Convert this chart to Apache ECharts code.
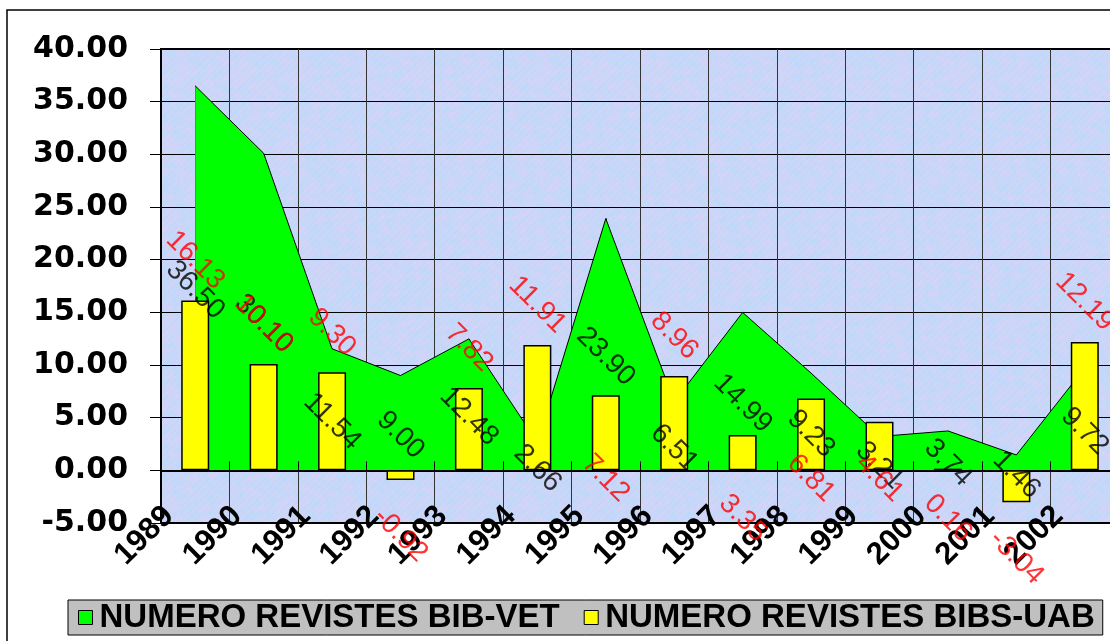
<!DOCTYPE html>
<html>
<head>
<meta charset="utf-8">
<script src="https://cdn.jsdelivr.net/npm/echarts@6/dist/echarts.min.js"></script>
<style>
html, body { margin: 0; padding: 0; background: #fff; }
#main { width: 1110px; height: 641px; }
</style>
</head>
<body>
<div id="main"></div>
<script>
// dades
var years = ['1989', '1990', '1991', '1992', '1993', '1994', '1995', '1996', '1997', '1998', '1999', '2000', '2001', '2002'];
var bibVet = [36.50, 30.10, 11.54, 9.00, 12.48, 2.66, 23.90, 6.51, 14.99, 9.23, 3.21, 3.74, 1.46, 9.72];
var bibsUab = [16.13, 10.10, 9.30, -0.92, 7.82, 11.91, 7.12, 8.96, 3.35, 6.81, 4.61, 0.16, -3.04, 12.19];
var nameVet = 'NUMERO REVISTES BIB-VET';
var nameUab = 'NUMERO REVISTES BIBS-UAB';

// on va l'etiqueta vermella de cada barra: al final de la barra o sota l'eix
var uabLabelAt = ['end', 'end', 'end', 'end', 'end', 'end', 'base', 'end', 'under', 'base', 'base', 'under', 'end', 'end'];

// textura del fons
function makeTexture() {
    var n = 180;
    var c = document.createElement('canvas');
    c.width = n;
    c.height = n;
    var ctx = c.getContext('2d');
    var img = ctx.createImageData(n, n);
    for (var y = 0; y < n; y++) {
        for (var x = 0; x < n; x++) {
            var a = Math.sin(x * 0.21 + Math.sin(y * 0.17) * 2.3) * Math.cos(y * 0.23 + Math.sin(x * 0.11) * 1.9);
            var b = Math.sin(x * 0.53 + y * 0.31) * Math.sin(y * 0.47 - x * 0.29);
            var t = 0.5 + 0.3 * a + 0.15 * b;
            var k = ((x * 31 + y * 17) % 7) - 3;
            var p = (y * n + x) * 4;
            img.data[p] = 186 + 30 * t + k;
            img.data[p + 1] = 218 - 8 * t + k;
            img.data[p + 2] = 250 - 4 * t;
            img.data[p + 3] = 255;
        }
    }
    ctx.putImageData(img, 0, 0);
    return c;
}

var chart = echarts.init(document.getElementById('main'));

// punts on s'enganxen les etiquetes vermelles
var redPoints = bibsUab.map(function (v, i) {
    var at = uabLabelAt[i];
    var pos, dist, y = v;
    if (at == 'end') {
        pos = v < 0 ? 'bottom' : 'top';
        dist = v < 0 ? 55 : 40;
    } else if (at == 'base') {
        pos = 'bottom';
        dist = 8;
        y = 0;
    } else {
        pos = 'bottom';
        dist = 48;
        y = 0;
    }
    return {value: [i, y], label: {position: pos, distance: dist}};
});

// linies verticals dins l'area
var dropLines = bibVet.map(function (v, i) {
    return [{coord: [years[i], 0]}, {coord: [years[i], v]}];
});

var labelFont = {
    rotate: -45,
    align: 'center',
    verticalAlign: 'middle',
    fontFamily: 'Liberation Sans',
    fontSize: 28
};

var option = {
    animation: false,
    backgroundColor: '#fff',
    grid: {
        left: 161,
        top: 49,
        width: 958,
        height: 474,
        show: true,
        backgroundColor: {image: makeTexture(), repeat: 'repeat'},
        borderColor: '#000',
        borderWidth: 2,
        outerBoundsMode: 'none'
    },
    legend: {
        left: 68,
        top: 600,
        orient: 'horizontal',
        itemWidth: 14,
        itemHeight: 14,
        itemGap: 24,
        backgroundColor: '#c0c0c0',
        borderColor: '#000',
        borderWidth: 1,
        borderRadius: 0,
        padding: [1, 8, 1, 10],
        textStyle: {fontFamily: 'Liberation Sans', fontWeight: 'bold', fontSize: 33, color: '#000', padding: [0, 0, 0, 2]},
        data: [
            {name: nameVet, icon: 'rect', itemStyle: {color: '#00ff00', borderColor: '#000', borderWidth: 1}},
            {name: nameUab, icon: 'rect', itemStyle: {color: '#ffff00', borderColor: '#000', borderWidth: 1}}
        ]
    },
    graphic: [{
        type: 'rect',
        shape: {x: 7, y: 10, width: 1130, height: 660},
        style: {fill: 'none', stroke: '#000', lineWidth: 1.5},
        silent: true
    }],
    xAxis: [
        {
            type: 'category',
            data: years,
            z: 3,
            axisLine: {onZero: true, lineStyle: {color: '#000', width: 2}},
            axisTick: {show: true, inside: true, length: 9, interval: 0, lineStyle: {color: '#000'}},
            axisLabel: {show: false},
            splitLine: {show: false}
        },
        {
            type: 'category',
            position: 'bottom',
            boundaryGap: false,
            data: years.concat(['']),
            z: 0,
            axisLine: {onZero: false, lineStyle: {color: '#000', width: 2}},
            axisTick: {show: false},
            axisLabel: {
                interval: 0,
                rotate: 45,
                margin: -4,
                padding: [0, -11, 0, 0],
                fontFamily: 'Liberation Sans',
                fontWeight: 'bold',
                fontSize: 31,
                color: '#000'
            },
            splitLine: {show: true, interval: 0, lineStyle: {color: '#333', width: 1}}
        }
    ],
    yAxis: {
        type: 'value',
        min: -5,
        max: 40,
        interval: 5,
        axisLine: {show: true, lineStyle: {color: '#000', width: 2}},
        axisTick: {show: true, length: 11, lineStyle: {color: '#000'}},
        axisLabel: {
            margin: 33,
            fontFamily: 'DejaVu Sans',
            fontWeight: 'bold',
            fontSize: 30,
            color: '#000',
            formatter: function (v) { return v.toFixed(2); }
        },
        splitLine: {show: true, lineStyle: {color: '#000', width: 1}}
    },
    series: [
        {
            name: nameVet,
            type: 'line',
            data: bibVet,
            z: 2,
            symbol: 'none',
            lineStyle: {color: '#000', width: 1},
            itemStyle: {color: '#00ff00'},
            areaStyle: {color: '#00ff00', opacity: 1},
            markLine: {
                z: 2,
                silent: true,
                symbol: ['none', 'none'],
                label: {show: false},
                lineStyle: {color: '#000', width: 1, type: 'solid'},
                data: dropLines
            }
        },
        {
            name: nameUab,
            type: 'bar',
            data: bibsUab,
            z: 10,
            barWidth: 28,
            itemStyle: {color: '#ffff00', borderColor: '#000', borderWidth: 1.5}
        },
        {
            // etiquetes negres a mitja alcada de l'area
            name: 'etiquetesVet',
            type: 'scatter',
            z: 11,
            silent: true,
            symbolSize: 0.1,
            itemStyle: {color: 'transparent'},
            data: bibVet.map(function (v, i) { return [i, v / 2]; }),
            label: Object.assign({
                show: true,
                position: 'bottom',
                distance: 12,
                color: '#000',
                formatter: function (p) { return bibVet[p.dataIndex].toFixed(2); }
            }, labelFont)
        },
        {
            // etiquetes vermelles de les barres
            name: 'etiquetesUab',
            type: 'scatter',
            z: 12,
            silent: true,
            symbolSize: 0.1,
            itemStyle: {color: 'transparent'},
            data: redPoints,
            label: Object.assign({
                show: true,
                color: '#ff0000',
                formatter: function (p) { return bibsUab[p.dataIndex].toFixed(2); }
            }, labelFont)
        }
    ]
};

chart.setOption(option);
</script>
</body>
</html>
